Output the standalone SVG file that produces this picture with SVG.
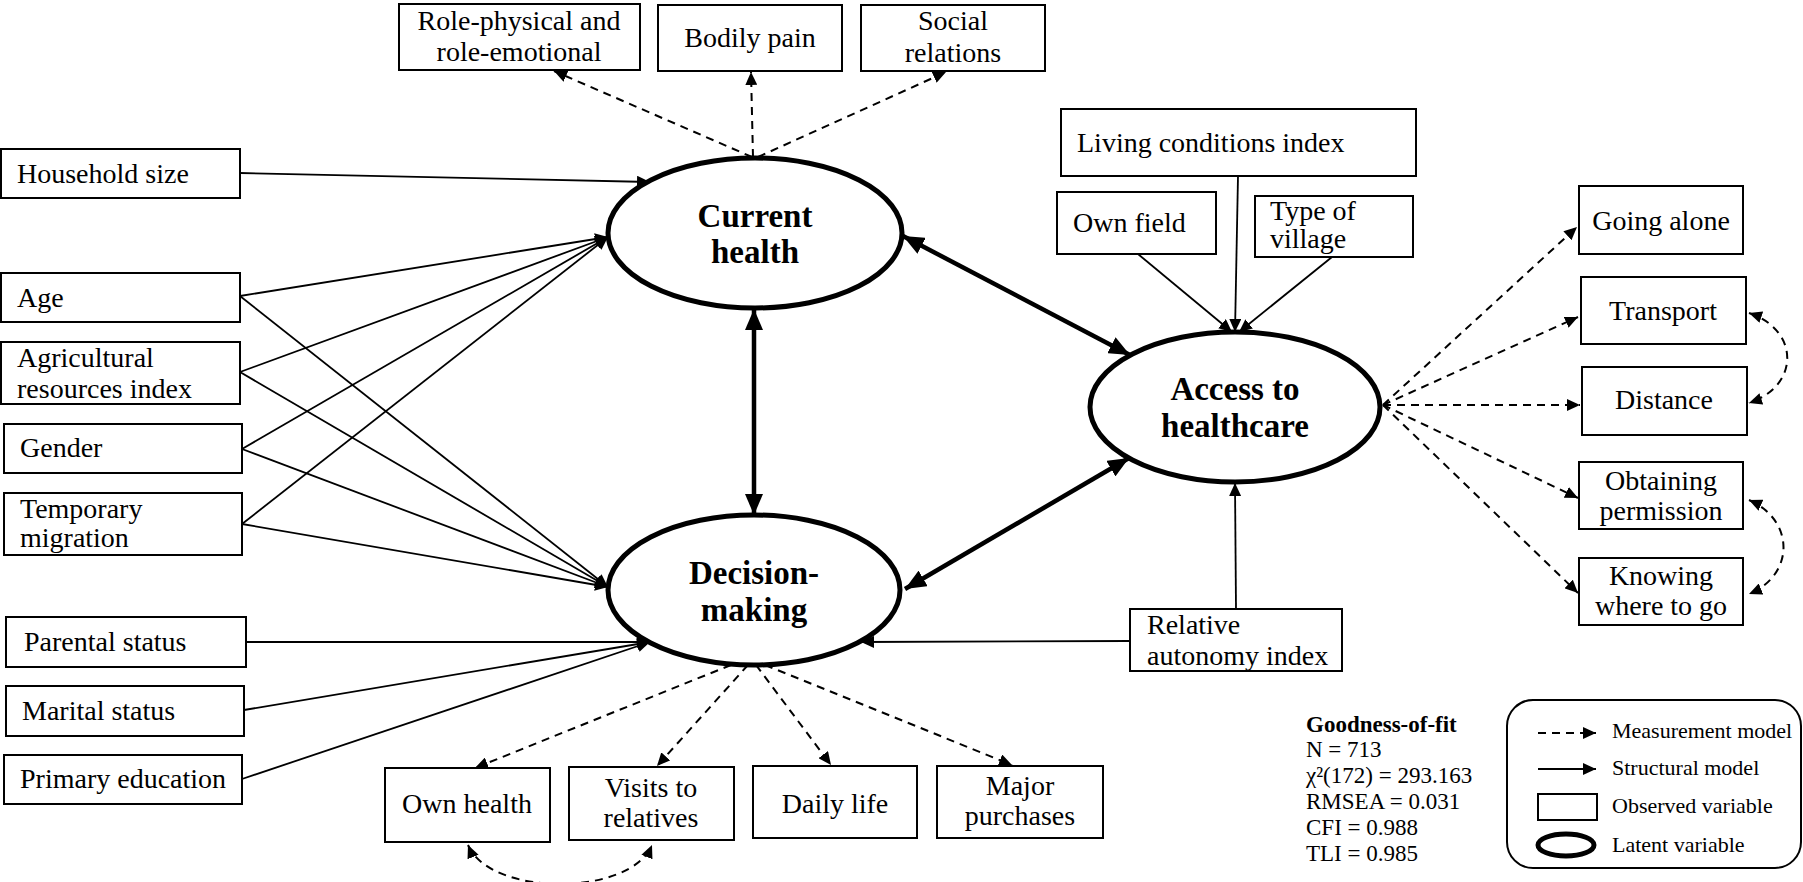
<svg xmlns="http://www.w3.org/2000/svg" width="1803" height="882" viewBox="0 0 1803 882">
<style>
.box{fill:#fff;stroke:#000;stroke-width:2}
.lat{fill:#fff;stroke:#000;stroke-width:5}
.t{font-family:"Liberation Serif","Times New Roman",serif;font-size:28px;fill:#000}
.c{text-anchor:middle}
.lt{font-family:"Liberation Serif","Times New Roman",serif;font-size:33px;font-weight:bold;fill:#000;text-anchor:middle}
.s{fill:none;stroke:#000;stroke-width:1.8}
.d{fill:none;stroke:#000;stroke-width:2;stroke-dasharray:8 6}
.b{fill:none;stroke:#000;stroke-width:4.5}
.g{font-family:"Liberation Serif","Times New Roman",serif;font-size:23px;fill:#000}
.lg{font-family:"Liberation Serif","Times New Roman",serif;font-size:22px;fill:#000}
</style>
<defs>
<marker id="a" markerUnits="userSpaceOnUse" markerWidth="14" markerHeight="12" refX="13" refY="6" orient="auto-start-reverse"><path d="M0,0 L13,6 L0,12 z" fill="#000"/></marker>
<marker id="ab" markerUnits="userSpaceOnUse" markerWidth="22" markerHeight="18" refX="21" refY="9" orient="auto-start-reverse"><path d="M0,0 L21,9 L0,18 z" fill="#000"/></marker>
</defs>
<rect width="1803" height="882" fill="#fff"/>

<g id="connectors">
<path class="d" d="M752,157 L554,71" marker-end="url(#a)"/>
<path class="d" d="M753,157 L751,72" marker-end="url(#a)"/>
<path class="d" d="M758,157 L946,72" marker-end="url(#a)"/>
<path class="d" d="M731,665 L475,768" marker-end="url(#a)"/>
<path class="d" d="M748,665 L657,766" marker-end="url(#a)"/>
<path class="d" d="M756,665 L831,765" marker-end="url(#a)"/>
<path class="d" d="M765,665 L1012,765" marker-end="url(#a)"/>
<path class="d" d="M468,845 C490,897 630,897 652,845" marker-start="url(#a)" marker-end="url(#a)"/>
<path class="d" d="M1383,405 L1577,227" marker-end="url(#a)"/>
<path class="d" d="M1383,405 L1578,317" marker-end="url(#a)"/>
<path class="d" d="M1383,405 L1580,405" marker-end="url(#a)"/>
<path class="d" d="M1383,405 L1578,498" marker-end="url(#a)"/>
<path class="d" d="M1383,405 L1578,593" marker-end="url(#a)"/>
<path class="d" d="M1749,313 C1800,330 1800,386 1749,403" marker-start="url(#a)" marker-end="url(#a)"/>
<path class="d" d="M1749,500 C1795,520 1795,575 1749,594" marker-start="url(#a)" marker-end="url(#a)"/>
<path class="s" d="M240,173 L650,182" marker-end="url(#a)"/>
<path class="s" d="M240,296 L608,237" marker-end="url(#a)"/>
<path class="s" d="M240,372 L608,237" marker-end="url(#a)"/>
<path class="s" d="M242,449 L608,237" marker-end="url(#a)"/>
<path class="s" d="M242,524 L608,237" marker-end="url(#a)"/>
<path class="s" d="M240,296 L608,587" marker-end="url(#a)"/>
<path class="s" d="M240,372 L608,587" marker-end="url(#a)"/>
<path class="s" d="M242,449 L608,587" marker-end="url(#a)"/>
<path class="s" d="M242,524 L608,587" marker-end="url(#a)"/>
<path class="s" d="M246,642 L650,642" marker-end="url(#a)"/>
<path class="s" d="M244,710 L650,642" marker-end="url(#a)"/>
<path class="s" d="M242,779 L650,642" marker-end="url(#a)"/>
<path class="s" d="M1130,641 L861,642" marker-end="url(#a)"/>
<path class="s" d="M1236,609 L1235,483" marker-end="url(#a)"/>
<path class="s" d="M1138,254 L1232,332" marker-end="url(#a)"/>
<path class="s" d="M1238,176 L1235,332" marker-end="url(#a)"/>
<path class="s" d="M1332,257 L1239,332" marker-end="url(#a)"/>
<path class="b" d="M754,309 L754,515" marker-start="url(#ab)" marker-end="url(#ab)"/>
<path class="b" d="M903,236 L1130,355" marker-start="url(#ab)" marker-end="url(#ab)"/>
<path class="b" d="M905,589 L1129,458" marker-start="url(#ab)" marker-end="url(#ab)"/>
</g>

<g id="current-health"><ellipse class="lat" cx="755" cy="233" rx="147" ry="75"/><text class="lt" x="755" y="227">Current</text><text class="lt" x="755" y="263">health</text></g>
<g id="decision-making"><ellipse class="lat" cx="754" cy="590" rx="146" ry="75"/><text class="lt" x="754" y="584">Decision-</text><text class="lt" x="754" y="621">making</text></g>
<g id="access"><ellipse class="lat" cx="1235" cy="407" rx="145" ry="75"/><text class="lt" x="1235" y="400">Access to</text><text class="lt" x="1235" y="437">healthcare</text></g>

<g id="role-physical"><rect class="box" x="399" y="4" width="241" height="66"/><text class="t c" x="519" y="30">Role-physical and</text><text class="t c" x="519" y="61">role-emotional</text></g>
<g id="bodily-pain"><rect class="box" x="658" y="5" width="184" height="66"/><text class="t c" x="750" y="47">Bodily pain</text></g>
<g id="social-relations"><rect class="box" x="861" y="5" width="184" height="66"/><text class="t c" x="953" y="30">Social</text><text class="t c" x="953" y="62">relations</text></g>

<g id="household-size"><rect class="box" x="1" y="149" width="239" height="49"/><text class="t" x="17" y="183">Household size</text></g>
<g id="age"><rect class="box" x="1" y="273" width="239" height="49"/><text class="t" x="17" y="307">Age</text></g>
<g id="agricultural"><rect class="box" x="1" y="342" width="239" height="62"/><text class="t" x="17" y="367">Agricultural</text><text class="t" x="17" y="398">resources index</text></g>
<g id="gender"><rect class="box" x="4" y="424" width="238" height="49"/><text class="t" x="20" y="457">Gender</text></g>
<g id="temporary-migration"><rect class="box" x="4" y="493" width="238" height="62"/><text class="t" x="20" y="518">Temporary</text><text class="t" x="20" y="547">migration</text></g>
<g id="parental-status"><rect class="box" x="6" y="617" width="240" height="50"/><text class="t" x="24" y="651">Parental status</text></g>
<g id="marital-status"><rect class="box" x="6" y="686" width="238" height="50"/><text class="t" x="22" y="720">Marital status</text></g>
<g id="primary-education"><rect class="box" x="4" y="755" width="238" height="49"/><text class="t" x="20" y="788">Primary education</text></g>

<g id="own-health"><rect class="box" x="385" y="768" width="165" height="74"/><text class="t c" x="467" y="813">Own health</text></g>
<g id="visits"><rect class="box" x="569" y="767" width="165" height="73"/><text class="t c" x="651" y="797">Visits to</text><text class="t c" x="651" y="827">relatives</text></g>
<g id="daily-life"><rect class="box" x="753" y="766" width="164" height="72"/><text class="t c" x="835" y="813">Daily life</text></g>
<g id="major-purchases"><rect class="box" x="937" y="766" width="166" height="72"/><text class="t c" x="1020" y="795">Major</text><text class="t c" x="1020" y="825">purchases</text></g>

<g id="living-conditions"><rect class="box" x="1061" y="109" width="355" height="67"/><text class="t" x="1077" y="152">Living conditions index</text></g>
<g id="own-field"><rect class="box" x="1057" y="192" width="159" height="62"/><text class="t" x="1073" y="232">Own field</text></g>
<g id="type-of-village"><rect class="box" x="1255" y="196" width="158" height="61"/><text class="t" x="1270" y="220">Type of</text><text class="t" x="1270" y="248">village</text></g>
<g id="relative-autonomy"><rect class="box" x="1130" y="609" width="212" height="62"/><text class="t" x="1147" y="634">Relative</text><text class="t" x="1147" y="665">autonomy index</text></g>

<g id="going-alone"><rect class="box" x="1579" y="186" width="164" height="68"/><text class="t c" x="1661" y="230">Going alone</text></g>
<g id="transport"><rect class="box" x="1581" y="277" width="165" height="67"/><text class="t c" x="1663" y="320">Transport</text></g>
<g id="distance"><rect class="box" x="1582" y="367" width="165" height="68"/><text class="t c" x="1664" y="409">Distance</text></g>
<g id="obtaining-permission"><rect class="box" x="1579" y="462" width="164" height="67"/><text class="t c" x="1661" y="490">Obtaining</text><text class="t c" x="1661" y="520">permission</text></g>
<g id="knowing-where"><rect class="box" x="1579" y="558" width="164" height="67"/><text class="t c" x="1661" y="585">Knowing</text><text class="t c" x="1661" y="615">where to go</text></g>

<g id="goodness-of-fit">
<text class="g" x="1306" y="732" font-weight="bold">Goodness-of-fit</text>
<text class="g" x="1306" y="757">N = 713</text>
<text class="g" x="1306" y="783">χ²(172) = 293.163</text>
<text class="g" x="1306" y="809">RMSEA = 0.031</text>
<text class="g" x="1306" y="835">CFI = 0.988</text>
<text class="g" x="1306" y="861">TLI = 0.985</text>
</g>

<g id="legend">
<rect x="1507" y="700" width="294" height="168" rx="26" ry="26" fill="#fff" stroke="#000" stroke-width="2"/>
<path class="d" d="M1538,733 L1596,733" marker-end="url(#a)"/>
<text class="lg" x="1612" y="738">Measurement model</text>
<path class="s" d="M1538,769 L1596,769" marker-end="url(#a)"/>
<text class="lg" x="1612" y="775">Structural model</text>
<rect class="box" x="1538" y="794" width="59" height="26"/>
<text class="lg" x="1612" y="813">Observed variable</text>
<ellipse cx="1566" cy="845" rx="28" ry="11" fill="#fff" stroke="#000" stroke-width="5"/>
<text class="lg" x="1612" y="852">Latent variable</text>
</g>
</svg>
